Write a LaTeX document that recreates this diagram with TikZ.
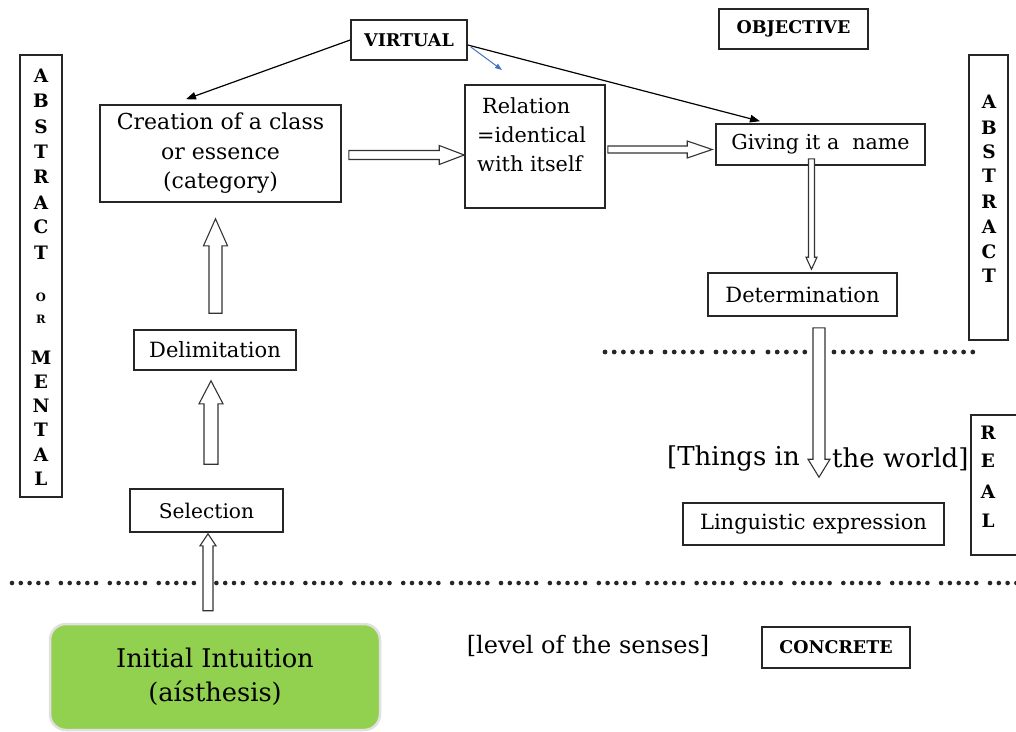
\documentclass[tikz,border=0pt]{standalone}
\usepackage{fontspec}
\setmainfont{DejaVu Serif}
\usetikzlibrary{calc,arrows.meta}

\newcommand{\fsz}[2]{\fontsize{#1}{#2}\selectfont}
\definecolor{leaf}{RGB}{146,208,80}
\definecolor{pointerblue}{RGB}{68,114,196}

\tikzset{
  box/.style={draw=black!85, line width=1.6pt, inner sep=0pt, align=center, font=\fsz{21}{26}},
  caps/.style={font=\bfseries\fsz{17.5}{20}},
  vlet/.style={font=\bfseries\fsz{18.5}{20}, inner sep=0pt},
  smalllet/.style={font=\bfseries\fsz{11.5}{12}, inner sep=0pt},
  thinarr/.style={line width=1.2pt, -{Triangle[length=10pt,width=7.5pt]}},
  blockarr/.style={draw=black!80, fill=white, line width=1.1pt, line join=miter},
  dot/.style={fill=black!85},
}

% hollow block arrow: #1 tail, #2 tip, #3 shaft half width, #4 head half width, #5 head length
\newcommand{\blockarrow}[5]{%
  \coordinate (ba-h) at ($(#2)!#5!(#1)$);
  \filldraw[blockarr] ($(#1)!#3!90:(#2)$) -- ($(ba-h)!#3!90:(#2)$) -- ($(ba-h)!#4!90:(#2)$)
    -- (#2) -- ($(ba-h)!#4!-90:(#2)$) -- ($(ba-h)!#3!-90:(#2)$) -- ($(#1)!#3!-90:(#2)$) -- cycle;}

\begin{document}
\begin{tikzpicture}[x=1pt,y=-1pt]
\useasboundingbox (0,0) rectangle (1016,731);
\fill[white] (0,0) rectangle (1016,731);

% side labels
\node[box, minimum width=42, minimum height=442] (mental) at (41,276) {};
\foreach \ch/\yy in {A/76,B/101,S/127,T/152,R/177,A/203,C/227,T/253,M/358,E/382,N/406,T/430,A/455,L/479}
  \node[vlet] (ml\yy) at (41,\yy) {\ch};
\node[smalllet] (mlo) at (41,297) {O};
\node[smalllet] (mlr) at (41,319) {R};

\node[box, minimum width=39, minimum height=285] (abstract) at (988.5,197.5) {};
\foreach \ch/\yy in {A/102,B/128,S/152,T/176,R/202,A/227,C/252,T/276}
  \node[vlet] (ab\yy) at (989,\yy) {\ch};

\node[box, minimum width=47, minimum height=140] (real) at (994.5,485) {};
\foreach \ch/\yy in {R/433,E/461,A/492,L/521}
  \node[vlet] (re\yy) at (988,\yy) {\ch};

% level separators
\foreach \gx/\n in {603/6,663/5,714/5,766/5,832/5,883/5,934/5}
  \foreach \k in {1,...,\n}
    \fill[dot] ({\gx+2+(\k-1)*9.2},352) circle (2.4pt);
\foreach \i in {0,...,20}
  \foreach \k in {0,...,4}
    \fill[dot] ({12+48.9*\i+8.8*\k},583) circle (2.3pt);

% boxes
\node[box, caps, minimum width=116, minimum height=40] (virtual) at (409,40) {VIRTUAL};
\node[box, caps, minimum width=149, minimum height=40] (objective) at (793.5,29) {OBJECTIVE};
\node[box, minimum width=241, minimum height=97, font=\fsz{22}{29.5}] (creation) at (220.5,153.5)
  {Creation of a class\\or essence\\(category)};
\node[box, minimum width=140, minimum height=123] (relation) at (535,146.5) {};
\node[font=\fsz{20.8}{29}, align=left, anchor=west, inner sep=0pt] (relationtext) at (477,135)
  {\hspace*{5pt}Relation\\=identical\\with itself};
\node[box, minimum width=209, minimum height=41, font=\fsz{20.6}{24}] (giving) at (820.5,144.5) {Giving it a~ name};
\node[box, minimum width=189, minimum height=43] (determination) at (802.5,294.5) {Determination};
\node[box, minimum width=162, minimum height=40] (delim) at (215,350) {Delimitation};
\node[box, minimum width=153, minimum height=43, font=\fsz{20.2}{24}] (selection) at (206.5,510.5) {Selection};
\node[box, minimum width=261, minimum height=42] (linguistic) at (813.5,524) {Linguistic expression};
\node[box, caps, minimum width=148, minimum height=41] (concrete) at (836,647.5) {CONCRETE};
\node[rounded corners=16pt, fill=leaf, draw=black!12, line width=2.5pt, minimum width=330, minimum height=106,
  inner sep=0pt, align=center, font=\fsz{25.7}{34}] (initial) at (215,677) {Initial Intuition\\(aísthesis)};

% free texts
\node[font=\fsz{24}{28}, inner sep=0pt] (senses) at (588,646) {[level of the senses]};
\node[font=\fsz{26}{30}, anchor=east, inner sep=0pt] (things) at (800,459) {[Things in};
\node[font=\fsz{26}{30}, anchor=west, inner sep=0pt] (world) at (832,459) {the world]};

% thin connectors
\draw[thinarr] (virtual.west) -- ([xshift=-34.5,yshift=5]creation.north);
\draw[thinarr] ([yshift=-5]virtual.east) -- ([xshift=-60.5,yshift=2]giving.north);
\coordinate (bluetip) at (502,70);
\draw[line width=1pt, pointerblue, -{Triangle[length=7pt,width=5pt]}] ([xshift=3,yshift=-7]virtual.east) -- (bluetip);

% block arrows
\coordinate (a1t) at ([xshift=7,yshift=-1.5]creation.east);
\coordinate (a1h) at ([yshift=-8.5]relation.west);
\blockarrow{a1t}{a1h}{4.5pt}{9.5pt}{25pt}
\coordinate (a2t) at ([xshift=2,yshift=-3]relation.east);
\coordinate (a2h) at ([xshift=-3,yshift=-5]giving.west);
\blockarrow{a2t}{a2h}{3.5pt}{8.5pt}{25pt}
\coordinate (a3t) at ([xshift=-9,yshift=7]giving.south);
\coordinate (a3h) at ([xshift=9,yshift=3]determination.north);
\blockarrow{a3t}{a3h}{3pt}{5.5pt}{12pt}
\coordinate (a4t) at ([xshift=16.5,yshift=-11]determination.south);
\coordinate (a4h) at ([xshift=5.5,yshift=25]linguistic.north);
\blockarrow{a4t}{a4h}{6pt}{11pt}{18pt}
\coordinate (a5t) at ([xshift=0.5,yshift=16]delim.north);
\coordinate (a5h) at ([xshift=-5,yshift=-16]creation.south);
\blockarrow{a5t}{a5h}{6.5pt}{12pt}{27pt}
\coordinate (a6t) at ([xshift=4.5,yshift=24]selection.north);
\coordinate (a6h) at ([xshift=-4,yshift=-10]delim.south);
\blockarrow{a6t}{a6h}{7pt}{12pt}{23pt}
\coordinate (a7t) at ([xshift=-7,yshift=12]initial.north);
\coordinate (a7h) at ([xshift=1.5,yshift=-1]selection.south);
\blockarrow{a7t}{a7h}{5pt}{8pt}{12pt}
\end{tikzpicture}
\end{document}
